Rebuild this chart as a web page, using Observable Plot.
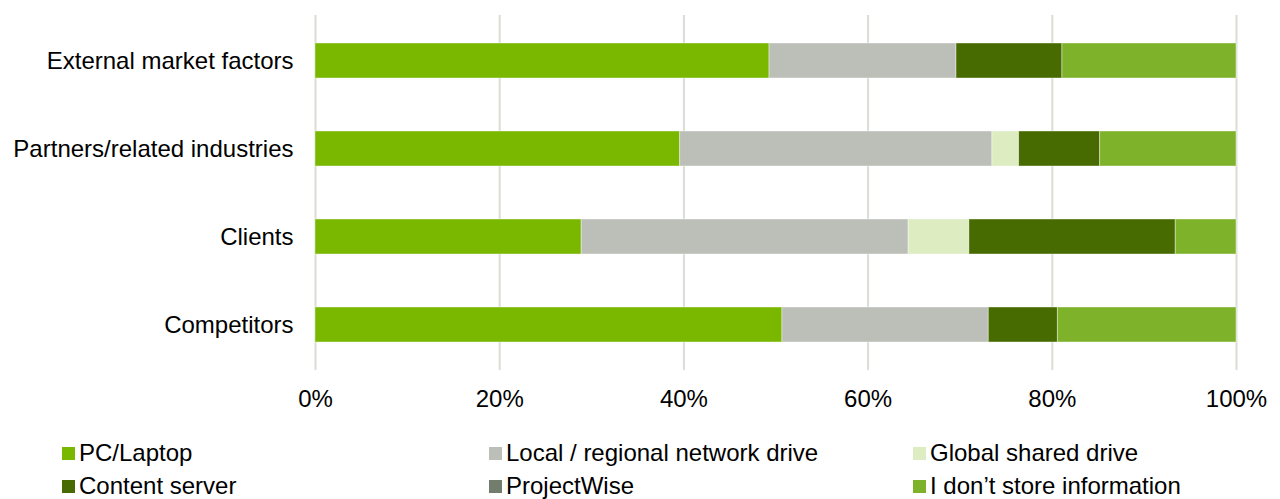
<!DOCTYPE html>
<html>
<head>
<meta charset="utf-8">
<script src="https://cdn.jsdelivr.net/npm/d3@7"></script>
<script src="https://cdn.jsdelivr.net/npm/@observablehq/plot@0.6"></script>
<style>
  html, body { margin: 0; padding: 0; background: #fff; }
  body { width: 1280px; height: 499px; position: relative; overflow: hidden; font-family: "Liberation Sans", Arial, sans-serif; }
  #chart { position: absolute; left: 0; top: 0; }
  .item { position: absolute; height: 34px; display: flex; align-items: center; font-size: 24px; color: #000; white-space: nowrap; }
  .sw { width: 13px; height: 13px; margin-right: 4px; flex: none; }
</style>
</head>
<body>
<div id="chart"></div>
<div id="legend"></div>
<script>
const categories = ["External market factors", "Partners/related industries", "Clients", "Competitors"];
const seriesNames = ["PC/Laptop", "Local / regional network drive", "Global shared drive", "Content server", "ProjectWise", "I don’t store information"];
const pcLaptop      = [49.3, 39.6, 28.9, 50.7];
const localDrive    = [20.3, 33.9, 35.5, 22.4];
const globalDrive   = [0.0, 2.9, 6.6, 0.0];
const contentServer = [11.5, 8.8, 22.4, 7.5];
const projectWise   = [0.0, 0.0, 0.0, 0.0];
const noStore       = [18.9, 14.8, 6.6, 19.4];
const seriesColors  = ["#7ab800", "#bbbfb8", "#ddedc1", "#476b00", "#727d6e", "#7fb22b"];
const xTicks = [0, 20, 40, 60, 80, 100];

const seriesValues = [pcLaptop, localDrive, globalDrive, contentServer, projectWise, noStore];
const data = [];
seriesNames.forEach((s, si) => {
  categories.forEach((c, ci) => {
    data.push({category: c, series: s, value: seriesValues[si][ci]});
  });
});

const chart = Plot.plot({
  width: 1280,
  height: 435,
  marginLeft: 315,
  marginRight: 44,
  marginTop: 15,
  marginBottom: 65,
  style: {fontFamily: "'Liberation Sans', Arial, sans-serif", fontSize: "24px", color: "#000", background: "#fff"},
  x: {domain: [0, 100], label: null},
  y: {domain: categories, label: null, paddingInner: 0.6, paddingOuter: 0.3},
  color: {domain: seriesNames, range: seriesColors},
  marks: [
    Plot.gridX(xTicks, {stroke: "#d9ddd6", strokeOpacity: 1, strokeWidth: 2}),
    Plot.barX(data, Plot.stackX({
      x: "value", y: "category", fill: "series", order: seriesNames,
      stroke: "#ffffff", strokeWidth: 0.8, strokeOpacity: 0.5
    })),
    Plot.axisX({ticks: xTicks, tickFormat: d => d + "%", tickSize: 0, tickPadding: 19, label: null, fill: "#000"}),
    Plot.axisY({tickSize: 0, tickPadding: 22, label: null, fill: "#000"})
  ]
});
document.getElementById("chart").appendChild(chart);

const legend = document.getElementById("legend");
const colX = [62, 489, 913];
const rowTop = [436, 469];
seriesNames.forEach((s, i) => {
  const item = document.createElement("div");
  item.className = "item";
  item.style.left = colX[i % 3] + "px";
  item.style.top = rowTop[Math.floor(i / 3)] + "px";
  const sw = document.createElement("span");
  sw.className = "sw";
  sw.style.background = seriesColors[i];
  const t = document.createElement("span");
  t.textContent = s;
  item.appendChild(sw);
  item.appendChild(t);
  legend.appendChild(item);
});
</script>
</body>
</html>
